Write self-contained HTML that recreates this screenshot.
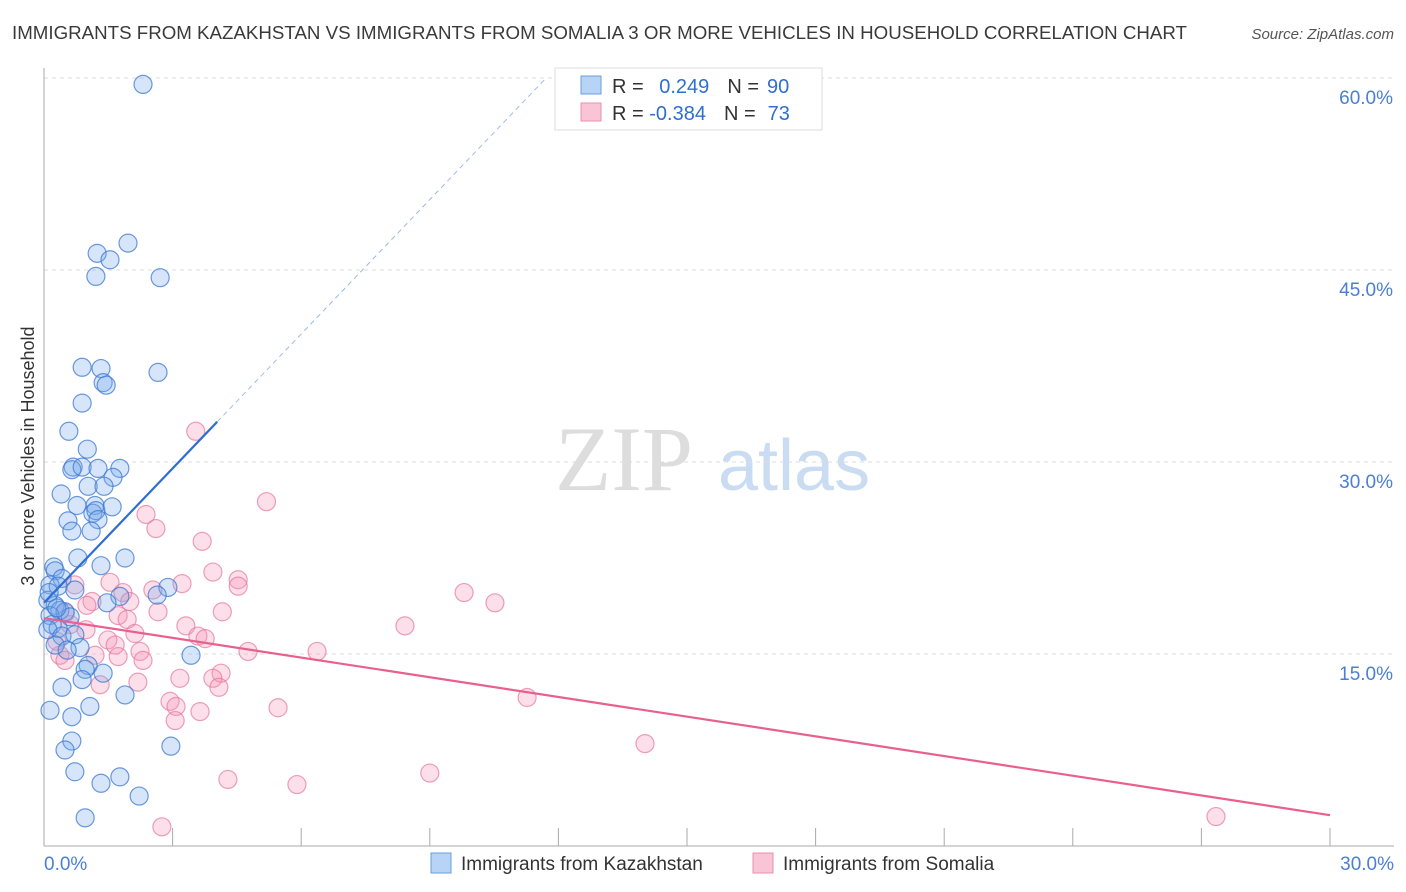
<!DOCTYPE html>
<html><head><meta charset="utf-8"><style>
body{margin:0;background:#fff;font-family:"Liberation Sans",sans-serif}
</style></head><body>
<svg id="chart" width="1406" height="892" xmlns="http://www.w3.org/2000/svg" style="display:block">
<text x="12" y="39" font-size="18" fill="#3a3a3a" textLength="1175" lengthAdjust="spacingAndGlyphs">IMMIGRANTS FROM KAZAKHSTAN VS IMMIGRANTS FROM SOMALIA 3 OR MORE VEHICLES IN HOUSEHOLD CORRELATION CHART</text>
<text x="1394" y="39" font-size="15" fill="#555" font-style="italic" text-anchor="end">Source: ZipAtlas.com</text>
<g>
<text x="555" y="490" font-size="92" fill="#ddd" font-family="Liberation Serif">ZIP</text>
<text x="718" y="490" font-size="72" fill="#c9dcf2">atlas</text>
</g>
<g id="grid"></g>
<g id="axes"></g>
<g id="pts"></g>
<g id="lines"></g>
<g>
<rect x="555" y="68" width="267" height="62" fill="#fff" stroke="#ddd"/>
<rect x="581" y="76" width="20" height="18" fill="#b7d3f5" stroke="#6a9de0"/>
<rect x="581" y="103" width="20" height="18" fill="#f9c4d5" stroke="#ea8fae"/>
<text x="612" y="93" font-size="20" fill="#333">R = <tspan fill="#2f6fd0" dx="10">0.249</tspan><tspan fill="#333" dx="18">N =</tspan><tspan fill="#2f6fd0" dx="8">90</tspan></text>
<text x="612" y="120" font-size="20" fill="#333">R = <tspan fill="#2f6fd0">-0.384</tspan><tspan fill="#333" dx="18">N =</tspan><tspan fill="#2f6fd0" dx="12">73</tspan></text>
</g>
<g>
<rect x="431" y="853" width="20" height="20" fill="#b7d3f5" stroke="#6a9de0"/>
<text x="461" y="870" font-size="19" fill="#333">Immigrants from Kazakhstan</text>
<rect x="753" y="853" width="20" height="20" fill="#f9c4d5" stroke="#ea8fae"/>
<text x="783" y="870" font-size="19" fill="#333">Immigrants from Somalia</text>
</g>
<text transform="translate(34,456) rotate(-90)" font-size="18" fill="#333" text-anchor="middle">3 or more Vehicles in Household</text>
</svg>
<script>
const blueX=[2.31,1.96,1.24,1.54,1.21,2.71,0.89,1.33,1.38,1.45,2.66,0.89,0.58,1.01,0.68,0.65,0.89,1.26,1.77,1.61,1.03,1.40,0.40,1.19,1.59,0.77,1.14,1.21,1.26,0.56,0.65,1.10,1.89,0.79,1.33,0.23,0.26,0.42,0.14,0.33,0.72,2.89,2.64,1.77,1.47,0.09,0.26,0.37,0.49,0.14,0.61,0.19,0.33,0.09,0.42,0.72,0.26,0.84,0.54,3.43,1.03,0.96,1.38,0.89,0.42,1.89,1.07,0.14,0.65,0.65,0.49,2.96,0.72,1.77,1.33,2.22,0.96,0.12,0.30];
const blueY=[59.5,47.1,46.3,45.8,44.5,44.4,37.4,37.3,36.2,36.0,37.0,34.6,32.4,31.0,29.6,29.4,29.6,29.5,29.5,28.8,28.1,28.1,27.5,26.6,26.5,26.6,26.0,26.2,25.5,25.4,24.6,24.6,22.5,22.5,21.9,21.8,21.5,20.9,20.4,20.3,20.0,20.2,19.6,19.5,19.0,19.2,18.8,18.4,18.3,18.0,17.9,17.3,17.0,16.9,16.4,16.5,15.7,15.5,15.3,14.9,14.1,13.8,13.5,13.0,12.4,11.8,10.9,10.6,10.1,8.2,7.5,7.8,5.8,5.4,4.9,3.9,2.2,19.8,18.6];
const pinkX=[3.54,5.19,2.38,2.61,3.69,3.94,4.53,4.53,3.22,2.54,1.84,1.54,0.72,2.00,1.12,1.00,2.66,4.16,9.80,10.52,8.42,1.73,1.94,3.31,0.61,0.98,2.12,3.59,3.76,1.49,1.66,4.76,6.37,2.24,1.19,1.73,2.31,0.37,0.49,4.13,3.17,3.94,2.19,1.31,4.08,2.94,5.46,11.27,3.08,3.64,3.06,14.02,9.0,4.29,5.90,27.34,2.75,0.5,0.3];
const pinkY=[32.4,26.9,25.9,24.8,23.8,21.4,20.8,20.3,20.5,20.0,19.8,20.6,20.4,19.1,19.1,18.8,18.3,18.3,19.8,19.0,17.2,18.0,17.7,17.2,17.3,16.9,16.6,16.4,16.2,16.1,15.7,15.2,15.2,15.2,14.9,14.8,14.5,14.9,14.5,13.5,13.1,13.1,12.8,12.6,12.4,11.3,10.8,11.6,10.9,10.5,9.8,8.0,5.7,5.2,4.8,2.3,1.5,18.2,16.0];
const blueTrend=[19.0,3.5]; // intercept, slope
const pinkTrend=[17.8,-0.513];
const yTicks=[15,30,45,60];
const yTickLabels=["15.0%","30.0%","45.0%","60.0%"];
const xTicks=[0,3,6,9,12,15,18,21,24,27,30];
const NS="http://www.w3.org/2000/svg";
const X=v=>44+v/30*1286, Y=v=>846-v/15*192;
function mk(tag,attrs,parent){const e=document.createElementNS(NS,tag);for(const k in attrs)e.setAttribute(k,attrs[k]);document.getElementById(parent).appendChild(e);return e;}
yTicks.forEach((t,i)=>{
 const g=mk('line',{x1:44,x2:1394,y1:Y(t),y2:Y(t),stroke:'#ddd','stroke-dasharray':'4,4'},'grid');
 
 
 const l=mk('text',{x:1393,y:Y(t)+26,'font-size':19,fill:'#4a7fd4','text-anchor':'end'},'grid');
 
 
 l.textContent=yTickLabels[i];
});
const ax=mk('line',{x1:44,x2:44,y1:68,y2:846,stroke:'#aaa'},'axes');


const bx=mk('line',{x1:44,x2:1394,y1:846,y2:846,stroke:'#aaa'},'axes');


xTicks.forEach(t=>{
 const k=mk('line',{x1:X(t),x2:X(t),y1:828,y2:846,stroke:'#aaa'},'axes');
 
 
});
[[0,"0.0%",44,'start'],[30,"30.0%",1394,'end']].forEach(a=>{
 const l=mk('text',{x:a[2],y:870,'font-size':19,fill:'#4a7fd4','text-anchor':a[3]},'axes');
 
 
 l.textContent=a[1];
});
pinkX.forEach((x,i)=>{
 const c=mk('circle',{cx:X(x),cy:Y(pinkY[i]),r:9,fill:'rgba(244,150,180,0.3)',stroke:'rgba(230,120,160,0.7)','stroke-width':1.2},'pts');
 
 
});
blueX.forEach((x,i)=>{
 const c=mk('circle',{cx:X(x),cy:Y(blueY[i]),r:9,fill:'rgba(120,170,235,0.3)',stroke:'rgba(60,120,210,0.75)','stroke-width':1.2},'pts');
 
 
});
const bEnd=4.04, bDash=(60-blueTrend[0])/blueTrend[1];
const b1=mk('line',{x1:X(0),y1:Y(blueTrend[0]),x2:X(bEnd),y2:Y(blueTrend[0]+blueTrend[1]*bEnd),stroke:'#2f6fd0','stroke-width':2.2},'lines');


const b2=mk('line',{x1:X(bEnd),y1:Y(blueTrend[0]+blueTrend[1]*bEnd),x2:X(bDash),y2:Y(60),stroke:'#9bbbe8','stroke-width':1,'stroke-dasharray':'5,4'},'lines');


const p1=mk('line',{x1:X(0),y1:Y(pinkTrend[0]),x2:X(30),y2:Y(pinkTrend[0]+pinkTrend[1]*30),stroke:'#e8608f','stroke-width':2.2},'lines');


</script>
</body></html>
